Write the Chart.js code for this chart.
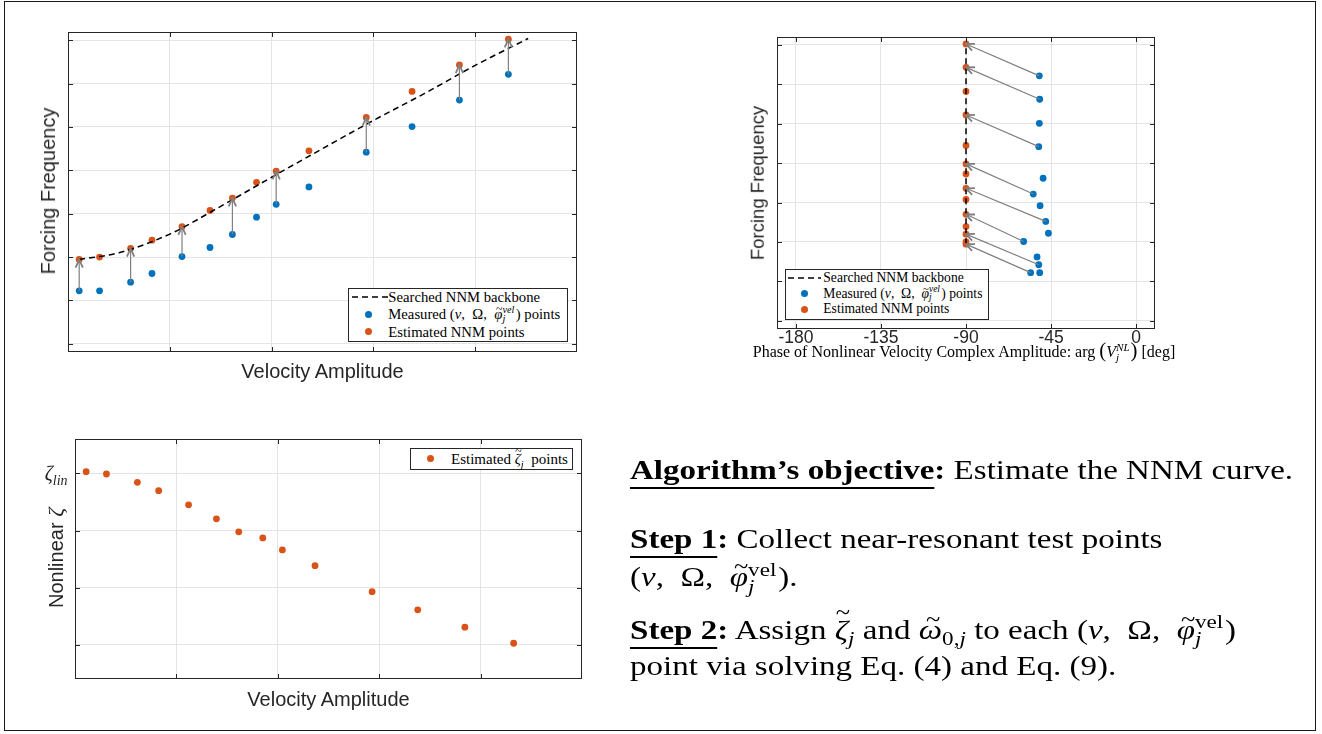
<!DOCTYPE html>
<html lang="en">
<head>
<meta charset="utf-8">
<title>NNM backbone estimation</title>
<script src="https://cdn.jsdelivr.net/npm/chart.js@4"></script>
<style>
  html, body { margin: 0; padding: 0; background: #fff; }
  body { width: 1322px; height: 734px; position: relative; overflow: hidden; color: #262626; }
  #frame { position: absolute; left: 4px; top: 1px; width: 1312px; height: 730px; box-sizing: border-box; border: 1.5px solid #1a1a1a; }
  canvas { position: absolute; }
  .lbl { position: absolute; line-height: 1; white-space: nowrap; }
  .sans { font-family: 'Liberation Sans', Arial, sans-serif; font-size: 20px; }
  .tex { font-family: 'Liberation Serif', 'Times New Roman', serif; }
  .rot { transform: translate(-50%, -50%) rotate(-90deg); }
  .ctr { transform: translateX(-50%); }
  .big { font-size: 1.3em; line-height: 0; }
  sub { font-size: 0.7em; vertical-align: baseline; position: relative; top: 0.35em; line-height: 0; }
  /* stacked super/subscript pair */
  .sx { position: relative; display: inline-block; height: 0; font-size: 0.7em; }
  .sx > span { position: absolute; left: 0; line-height: 1; }
  .sx > .up { bottom: 0.35em; }
  .sx > .dn { top: -0.48em; }
  /* letter with a tilde on top */
  .acc { position: relative; display: inline-block; line-height: 1; }
  .acc > .tl { position: absolute; left: 62%; transform: translateX(-50%); top: -0.31em; font-size: 0.8em; font-style: normal; }
  .acc.tall > .tl { top: -0.6em; }
  .legend { position: absolute; background: #fff; border: 1px solid #262626; box-sizing: border-box; color: #000; }
  .legend .row { position: absolute; left: 0; height: 16px; line-height: 16px; white-space: nowrap; }
  .legend .dot { position: absolute; top: 4.5px; width: 7px; height: 7px; border-radius: 50%; }
  .legend svg { position: absolute; top: 7px; }
  .legend .txt { position: absolute; top: 0; }
  .panel { position: absolute; left: 630px; top: 0; transform: scaleX(1.18); transform-origin: left top;
           font-family: 'Liberation Serif', 'Times New Roman', serif; font-size: 28px; color: #000; }
  .panel > div { position: absolute; left: 0; line-height: 1; white-space: nowrap; }
  .panel u { text-decoration: underline; text-decoration-thickness: 1.5px; text-underline-offset: 8px; text-decoration-skip-ink: none; }
</style>
</head>
<body>
<div id="frame"></div>

<!-- top left: frequency vs velocity amplitude -->
<canvas id="freq-chart" width="530" height="340" style="left:58px; top:22px"></canvas>
<div class="lbl sans rot" style="left:47.5px; top:190.5px">Forcing Frequency</div>
<div class="lbl sans ctr" style="left:322.5px; top:360.8px">Velocity Amplitude</div>
<div class="legend tex" style="left:347.7px; top:287.7px; width:220.3px; height:54.6px; font-size:14.7px">
  <div class="row" style="top:0.6px">
    <svg style="left:3px" width="36" height="2"><line x1="0" y1="1" x2="36" y2="1" stroke="#000" stroke-width="1.5" stroke-dasharray="6 4"/></svg>
    <span class="txt" style="left:39.6px">Searched NNM backbone</span>
  </div>
  <div class="row" style="top:17.6px">
    <span class="dot" style="left:16.1px; background:#0072BD"></span>
    <span class="txt" style="left:39.6px">Measured (<i>v</i>,&nbsp; &Omega;,&nbsp; <span class="acc"><i>&#966;</i><span class="tl">~</span></span><span class="sx" style="width:1.3em"><span class="up"><i>vel</i></span><span class="dn"><i>j</i></span></span>) points</span>
  </div>
  <div class="row" style="top:35px">
    <span class="dot" style="left:16.1px; background:#D95319"></span>
    <span class="txt" style="left:39.6px">Estimated NNM points</span>
  </div>
</div>

<!-- top right: frequency vs phase -->
<canvas id="phase-chart" width="398" height="325" style="left:767px; top:27px"></canvas>
<div class="lbl sans rot" style="left:757.5px; top:183px; font-size:18.5px">Forcing Frequency</div>
<div class="lbl tex ctr" style="left:964px; top:344px; font-size:16px; color:#000">Phase of Nonlinear Velocity Complex Amplitude: arg <span class="big">(</span><i>V</i><span class="sx" style="width:1.3em"><span class="up"><i>NL</i></span><span class="dn"><i>j</i></span></span><span class="big">)</span> [deg]</div>
<div class="legend tex" style="left:785px; top:269px; width:204.3px; height:50.7px; font-size:13.6px">
  <div class="row" style="top:-0.3px">
    <svg style="left:2px" width="33" height="2"><line x1="0" y1="1" x2="33" y2="1" stroke="#000" stroke-width="1.5" stroke-dasharray="6 4"/></svg>
    <span class="txt" style="left:37.3px">Searched NNM backbone</span>
  </div>
  <div class="row" style="top:15.7px">
    <span class="dot" style="left:14.5px; background:#0072BD"></span>
    <span class="txt" style="left:37.3px">Measured (<i>v</i>,&nbsp; &Omega;,&nbsp; <span class="acc"><i>&#966;</i><span class="tl">~</span></span><span class="sx" style="width:1.3em"><span class="up"><i>vel</i></span><span class="dn"><i>j</i></span></span>) points</span>
  </div>
  <div class="row" style="top:31.3px">
    <span class="dot" style="left:14.5px; background:#D95319"></span>
    <span class="txt" style="left:37.3px">Estimated NNM points</span>
  </div>
</div>

<!-- bottom left: damping vs velocity amplitude -->
<canvas id="damping-chart" width="527" height="260" style="left:65px; top:429px"></canvas>
<div class="lbl sans rot" style="left:56px; top:558px">Nonlinear <i class="tex" style="font-size:22px">&zeta;</i></div>
<div class="lbl tex" style="left:44.7px; top:463.2px; font-size:20px"><i>&zeta;</i><sub><i>lin</i></sub></div>
<div class="lbl sans ctr" style="left:328.5px; top:689px">Velocity Amplitude</div>
<div class="legend tex" style="left:410.3px; top:448.3px; width:162.7px; height:21.7px; font-size:15px">
  <div class="row" style="top:1.7px">
    <span class="dot" style="left:16.2px; background:#D95319"></span>
    <span class="txt" style="left:39.7px">Estimated <span class="acc tall"><i>&zeta;</i><span class="tl">~</span></span><sub><i>j</i></sub>&nbsp; points</span>
  </div>
</div>

<!-- algorithm notes -->
<div class="panel">
  <div style="top:455.5px"><b><u>Algorithm&rsquo;s objective</u>:</b> Estimate the NNM curve.</div>
  <div style="top:524.5px"><b><u>Step 1</u>:</b> Collect near-resonant test points</div>
  <div style="top:563.2px">(<i>v</i>,&nbsp; &Omega;,&nbsp; <span class="acc"><i>&#966;</i><span class="tl">~</span></span><span class="sx" style="width:1.3em"><span class="up">vel</span><span class="dn"><i>j</i></span></span>).</div>
  <div style="top:615.5px"><b><u>Step 2</u>:</b> Assign <span class="acc tall"><i>&zeta;</i><span class="tl">~</span></span><sub><i>j</i></sub> and <span class="acc"><i>&omega;</i><span class="tl">~</span></span><sub>0,<i>j</i></sub> to each (<i>v</i>,&nbsp; &Omega;,&nbsp; <span class="acc"><i>&#966;</i><span class="tl">~</span></span><span class="sx" style="width:1.3em"><span class="up">vel</span><span class="dn"><i>j</i></span></span>)</div>
  <div style="top:651.5px">point via solving Eq. (4) and Eq. (9).</div>
</div>

<script>
'use strict';

// Test points, one entry per measurement
let velocity = [0.11, 0.31, 0.615, 0.825, 1.12, 1.395, 1.615, 1.852, 2.045, 2.367, 2.93, 3.38, 3.845, 4.326];
let measuredFreq = [2.22, 2.22, 2.42, 2.62, 3.01, 3.22, 3.52, 3.92, 4.215, 4.616, 5.418, 6.01, 6.62, 7.214];
let estimatedFreq = [2.943, 3.0, 3.197, 3.39, 3.70, 4.076, 4.36, 4.724, 4.98, 5.449, 6.22, 6.82, 7.43, 8.024];
let measuredPhase = [-55.8, -51.0, -51.5, -52.4, -59.5, -46.4, -47.8, -50.8, -54.4, -49.2, -51.5, -51.2, -51.0, -51.2];
let estimatedDamping = [4.029, 3.988, 3.842, 3.696, 3.45, 3.205, 2.977, 2.871, 2.661, 2.386, 1.930, 1.614, 1.31, 1.029];

// NNM sits at -90 deg phase
let nnmPhase = -90;

// Searched backbone curve
let backboneVel = [0.11, 0.5, 1.0, 1.5, 2.0, 2.5, 3.0, 3.5, 4.0, 4.52];
let backboneFreq = [2.943, 3.10, 3.53, 4.17, 4.84, 5.50, 6.15, 6.77, 7.42, 8.04];

// Points that get an arrow from measured to estimated
let arrowIdx = [0, 2, 4, 6, 8, 10, 12, 13];

// Tick / grid values
let velTicks = [1, 2, 3, 4];
let freqTicks = [1, 2, 3, 4, 5, 6, 7, 8];
let phaseTicks = [-180, -135, -90, -45, 0];
let dampingTicks = [1, 2, 3, 4];

let blue = '#0072BD';
let orange = '#D95319';
let axisColor = '#262626';
let gridColor = '#e4e4e4';

function pts(xs, ys) {
  let out = [];
  for (let i = 0; i < xs.length; i++) {
    out.push({ x: xs[i], y: ys[i] });
  }
  return out;
}

let measuredPts = pts(velocity, measuredFreq);
let estimatedPts = pts(velocity, estimatedFreq);
let backbonePts = pts(backboneVel, backboneFreq);
let measuredPhasePts = pts(measuredPhase, measuredFreq);
let nnmPhasePts = estimatedFreq.map(f => ({ x: nnmPhase, y: f }));
let dampingPts = pts(velocity, estimatedDamping);

// matlab style box with inward ticks on all four sides
let boxPlugin = {
  id: 'axesBox',
  afterDatasetsDraw(chart) {
    let ctx = chart.ctx;
    let a = chart.chartArea;
    let x = chart.scales.x;
    let y = chart.scales.y;
    let len = 5;
    ctx.save();
    ctx.strokeStyle = axisColor;
    ctx.lineWidth = 1;
    ctx.beginPath();
    x.ticks.forEach(t => {
      let px = Math.round(x.getPixelForValue(t.value)) + 0.5;
      ctx.moveTo(px, a.bottom); ctx.lineTo(px, a.bottom - len);
      ctx.moveTo(px, a.top); ctx.lineTo(px, a.top + len);
    });
    y.ticks.forEach(t => {
      let py = Math.round(y.getPixelForValue(t.value)) + 0.5;
      ctx.moveTo(a.left, py); ctx.lineTo(a.left + len, py);
      ctx.moveTo(a.right, py); ctx.lineTo(a.right - len, py);
    });
    ctx.stroke();
    ctx.strokeRect(Math.round(a.left) + 0.5, Math.round(a.top) + 0.5,
      Math.round(a.right - a.left) - 1, Math.round(a.bottom - a.top) - 1);
    ctx.restore();
  }
};

// gray arrows from each measured point to its estimate
function makeArrows(from, to, idx) {
  return {
    id: 'arrows',
    afterDatasetsDraw(chart) {
      let ctx = chart.ctx;
      let x = chart.scales.x;
      let y = chart.scales.y;
      let head = 9;
      let spread = 0.42;
      ctx.save();
      ctx.strokeStyle = '#808080';
      idx.forEach(i => {
        let x0 = x.getPixelForValue(from[i].x);
        let y0 = y.getPixelForValue(from[i].y);
        let x1 = x.getPixelForValue(to[i].x);
        let y1 = y.getPixelForValue(to[i].y);
        let ang = Math.atan2(y1 - y0, x1 - x0);
        ctx.lineWidth = 1.2;
        ctx.beginPath();
        ctx.moveTo(x0, y0);
        ctx.lineTo(x1, y1);
        ctx.stroke();
        ctx.lineWidth = 1.8;
        ctx.beginPath();
        ctx.moveTo(x1 - head * Math.cos(ang - spread), y1 - head * Math.sin(ang - spread));
        ctx.lineTo(x1, y1);
        ctx.lineTo(x1 - head * Math.cos(ang + spread), y1 - head * Math.sin(ang + spread));
        ctx.stroke();
      });
      ctx.restore();
    }
  };
}

function axis(min, max, tickVals, showLabels, size, horizontal) {
  return {
    type: 'linear',
    min: min,
    max: max,
    afterBuildTicks: (s) => { s.ticks = tickVals.map(v => ({ value: v })); },
    afterFit: (s) => {
      if (horizontal) s.height = size; else s.width = size;
    },
    grid: { color: gridColor, drawTicks: false, lineWidth: 1 },
    border: { display: false },
    ticks: {
      display: showLabels,
      autoSkip: false,
      maxRotation: 0,
      padding: 0,
      color: axisColor,
      font: { family: "'Liberation Sans', Arial, sans-serif", size: 17.5, lineHeight: 1 }
    }
  };
}

function baseOptions(pad, scales) {
  return {
    responsive: false,
    animation: false,
    events: [],
    layout: { padding: pad },
    plugins: { legend: { display: false }, tooltip: { enabled: false } },
    scales: scales
  };
}

let dotStyle = { pointRadius: 3.4, borderWidth: 0, pointBorderWidth: 0 };

// Chart 1 - forcing frequency vs velocity amplitude
new Chart(document.getElementById('freq-chart'), {
  type: 'scatter',
  data: {
    datasets: [
      { data: backbonePts, showLine: true, borderColor: '#000', borderWidth: 1.5, borderDash: [6, 4],
        pointRadius: 0, cubicInterpolationMode: 'monotone' },
      Object.assign({ data: estimatedPts, backgroundColor: orange }, dotStyle),
      Object.assign({ data: measuredPts, backgroundColor: blue }, dotStyle)
    ]
  },
  options: baseOptions({ left: 10, top: 10, right: 11, bottom: 10 }, {
    x: axis(0, 5, velTicks, false, 0, true),
    y: axis(0.81, 8.19, freqTicks, false, 0, false)
  }),
  plugins: [makeArrows(measuredPts, estimatedPts, arrowIdx), boxPlugin]
});

// Chart 2 - forcing frequency vs phase
new Chart(document.getElementById('phase-chart'), {
  type: 'scatter',
  data: {
    datasets: [
      { data: nnmPhasePts, showLine: true, borderColor: '#000', borderWidth: 1.5, borderDash: [6, 4], pointRadius: 0 },
      Object.assign({ data: nnmPhasePts, backgroundColor: orange }, dotStyle),
      Object.assign({ data: measuredPhasePts, backgroundColor: blue }, dotStyle)
    ]
  },
  options: baseOptions({ left: 10, top: 10, right: 10, bottom: 0 }, {
    x: axis(-190, 10, phaseTicks, true, 23, true),
    y: axis(0.79, 8.2, freqTicks, false, 0, false)
  }),
  plugins: [makeArrows(measuredPhasePts, nnmPhasePts, arrowIdx), boxPlugin]
});

// Chart 3 - nonlinear damping vs velocity amplitude
new Chart(document.getElementById('damping-chart'), {
  type: 'scatter',
  data: {
    datasets: [
      Object.assign({ data: dampingPts, backgroundColor: orange }, dotStyle)
    ]
  },
  options: baseOptions({ left: 10, top: 10, right: 10, bottom: 10 }, {
    x: axis(0, 5, velTicks, false, 0, true),
    y: axis(0.404, 4.6, dampingTicks, false, 0, false)
  }),
  plugins: [boxPlugin]
});
</script>
</body>
</html>
